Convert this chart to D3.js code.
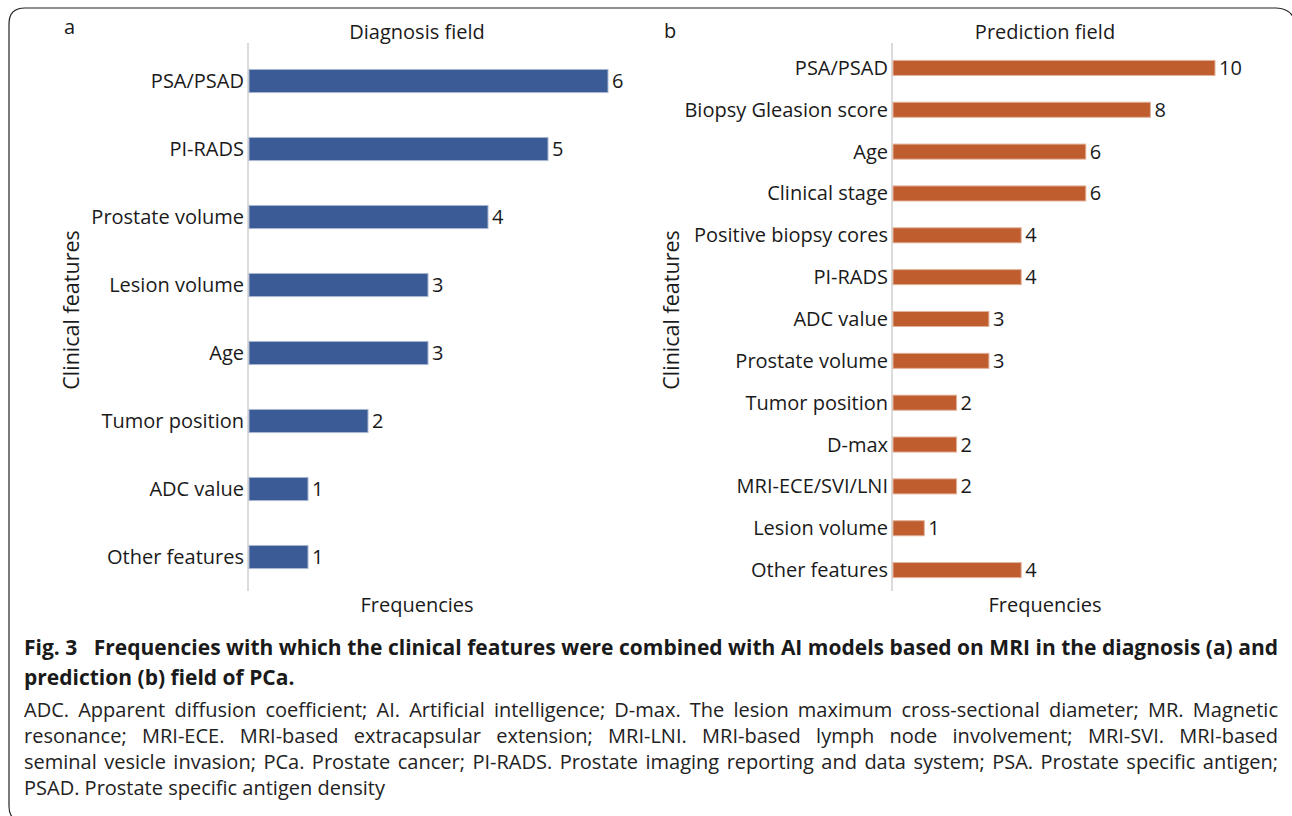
<!DOCTYPE html>
<html>
<head>
<meta charset="utf-8">
<script src="https://cdn.jsdelivr.net/npm/d3@7"></script>
<style>
  body { margin:0; background:#fff; font-family:"Open Sans", "Noto Sans", sans-serif; color:#1a1a1a; }
  #wrap { position:relative; width:1292px; height:816px; overflow:hidden; }
  svg { position:absolute; left:0; top:0; }
  .cap { position:absolute; left:24px; width:1254px; }
  .cap div { white-space:nowrap; text-align:justify; text-align-last:justify; }
  .cap div.last { text-align-last:left; }
  .cap.bold { top:632px; font-weight:700; font-size:21px; line-height:30px; }
  .cap.body { top:697px; font-size:20px; line-height:26px; color:#222; }
</style>
</head>
<body>
<div id="wrap">
  <svg id="chart"></svg>
  <div class="cap bold">
    <div>Fig. 3&nbsp;&nbsp;&nbsp;Frequencies with which the clinical features were combined with AI models based on MRI in the diagnosis (a) and</div>
    <div class="last">prediction (b) field of PCa.</div>
  </div>
  <div class="cap body">
    <div>ADC. Apparent diffusion coefficient; AI. Artificial intelligence; D-max. The lesion maximum cross-sectional diameter; MR. Magnetic</div>
    <div>resonance; MRI-ECE. MRI-based extracapsular extension; MRI-LNI. MRI-based lymph node involvement; MRI-SVI. MRI-based</div>
    <div>seminal vesicle invasion; PCa. Prostate cancer; PI-RADS. Prostate imaging reporting and data system; PSA. Prostate specific antigen;</div>
    <div class="last">PSAD. Prostate specific antigen density</div>
  </div>
</div>
<script>
// panel a
var diagFeatures = ["PSA/PSAD", "PI-RADS", "Prostate volume", "Lesion volume", "Age", "Tumor position", "ADC value", "Other features"];
var diagValues = [6, 5, 4, 3, 3, 2, 1, 1];

// panel b
var predFeatures = ["PSA/PSAD", "Biopsy Gleasion score", "Age", "Clinical stage", "Positive biopsy cores", "PI-RADS", "ADC value", "Prostate volume", "Tumor position", "D-max", "MRI-ECE/SVI/LNI", "Lesion volume", "Other features"];
var predValues = [10, 8, 6, 6, 4, 4, 3, 3, 2, 2, 2, 1, 4];

var svg = d3.select("#chart").attr("width", 1292).attr("height", 816);

// frame with rounded corners
var r = 16;
svg.append("path")
  .attr("d", "M" + (9 + r) + ",822 Q9,822 9," + (822 - r) +
    " L9," + (8 + r) + " Q9,8 " + (9 + r) + ",8 L" + (1292 - r) + ",8 Q1292,8 1296," + (8 + r))
  .attr("fill", "none").attr("stroke", "#222").attr("stroke-width", 1.2);

function panel(opt) {
  var g = svg.append("g");
  var x = d3.scaleLinear().domain([0, 1]).range([opt.x0, opt.x0 + opt.unit]);
  var y = d3.scaleBand().domain(opt.cats).range([47, 591]).paddingInner(opt.pad).paddingOuter(opt.pad / 2);

  g.append("line")
    .attr("x1", opt.x0).attr("x2", opt.x0)
    .attr("y1", 43).attr("y2", 591)
    .attr("stroke", "#cfcfcf").attr("stroke-width", 1.5);

  g.selectAll("rect").data(opt.vals).enter().append("rect")
    .attr("x", opt.x0 + 1)
    .attr("y", function(d, i) { return y(opt.cats[i]); })
    .attr("width", function(d) { return x(d) - opt.x0 - 1; })
    .attr("height", y.bandwidth())
    .attr("fill", opt.color)
    .attr("stroke", opt.edge).attr("stroke-width", 1);

  g.selectAll("text.val").data(opt.vals).enter().append("text")
    .attr("class", "val")
    .attr("x", function(d) { return x(d) + 4; })
    .attr("y", function(d, i) { return y(opt.cats[i]) + y.bandwidth() / 2; })
    .attr("dy", "0.35em")
    .attr("font-size", 20).attr("fill", "#1a1a1a")
    .text(function(d) { return d; });

  g.selectAll("text.cat").data(opt.cats).enter().append("text")
    .attr("class", "cat")
    .attr("x", opt.x0 - 4)
    .attr("y", function(d) { return y(d) + y.bandwidth() / 2; })
    .attr("dy", "0.35em")
    .attr("text-anchor", "end")
    .attr("font-size", 20).attr("fill", "#1a1a1a")
    .text(function(d) { return d; });

  g.append("text").attr("x", opt.cx).attr("y", 39).attr("text-anchor", "middle")
    .attr("font-size", 20).attr("fill", "#1a1a1a").text(opt.title);
  g.append("text").attr("x", opt.cx).attr("y", 612).attr("text-anchor", "middle")
    .attr("font-size", 20).attr("fill", "#1a1a1a").text("Frequencies");
  g.append("text").attr("transform", "translate(" + (opt.lx + 11) + ",310) rotate(-90)")
    .attr("text-anchor", "middle")
    .attr("font-size", 21.5).attr("fill", "#1a1a1a").text("Clinical features");
  g.append("text").attr("x", opt.lx - 4).attr("y", opt.ly)
    .attr("font-size", 20).attr("fill", "#1a1a1a").text(opt.letter);
}

panel({ cats: diagFeatures, vals: diagValues, x0: 248, unit: 60, pad: 0.66,
  color: "#3a5b95", edge: "#a9b7d0", title: "Diagnosis field", cx: 417, lx: 68, ly: 34, letter: "a" });
panel({ cats: predFeatures, vals: predValues, x0: 892, unit: 32.3, pad: 0.64,
  color: "#bf5d2f", edge: "#e2b29a", title: "Prediction field", cx: 1045, lx: 668, ly: 38, letter: "b" });
</script>
</body>
</html>
